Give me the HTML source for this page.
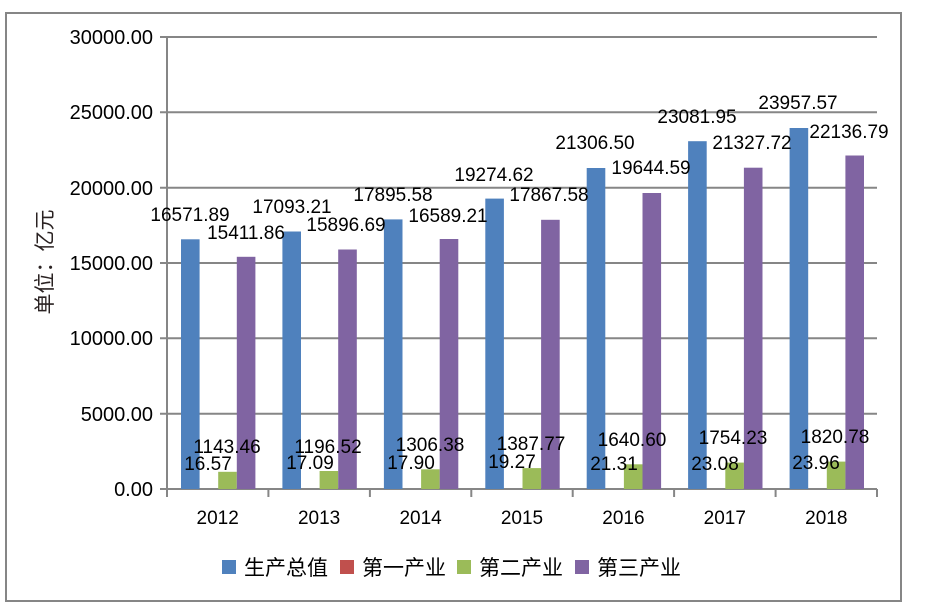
<!DOCTYPE html>
<html><head><meta charset="utf-8"><style>
html,body{margin:0;padding:0;background:#fff;}
svg{display:block;}
text{font-family:"Liberation Sans","Noto Sans CJK SC",sans-serif;fill:#000;}
</style></head><body>
<svg width="943" height="611" viewBox="0 0 943 611" xmlns="http://www.w3.org/2000/svg">
<rect x="6" y="13" width="895" height="588" fill="#fff" stroke="#868686" stroke-width="2"/>
<g stroke="#868686" stroke-width="2">
<line x1="160" y1="37" x2="877" y2="37"/>
<line x1="160" y1="112.3" x2="877" y2="112.3"/>
<line x1="160" y1="187.7" x2="877" y2="187.7"/>
<line x1="160" y1="263" x2="877" y2="263"/>
<line x1="160" y1="338.3" x2="877" y2="338.3"/>
<line x1="160" y1="413.7" x2="877" y2="413.7"/>
<line x1="160" y1="489" x2="877" y2="489"/>
<line x1="167" y1="37" x2="167" y2="489"/>
<line x1="167" y1="489" x2="167" y2="497"/>
<line x1="268.4" y1="489" x2="268.4" y2="497"/>
<line x1="369.9" y1="489" x2="369.9" y2="497"/>
<line x1="471.3" y1="489" x2="471.3" y2="497"/>
<line x1="572.7" y1="489" x2="572.7" y2="497"/>
<line x1="674.1" y1="489" x2="674.1" y2="497"/>
<line x1="775.6" y1="489" x2="775.6" y2="497"/>
<line x1="877" y1="489" x2="877" y2="497"/>
</g>
<g font-size="20" text-anchor="end">
<text x="153" y="44">30000.00</text>
<text x="153" y="119">25000.00</text>
<text x="153" y="195">20000.00</text>
<text x="153" y="270">15000.00</text>
<text x="153" y="345">10000.00</text>
<text x="153" y="421">5000.00</text>
<text x="153" y="496">0.00</text>
</g>
<text transform="translate(52,262) rotate(-90)" font-size="21" text-anchor="middle" style="fill:#2a2222">单位：亿元</text>
<g>
<g fill="#4f81bd">
<rect x="181" y="239.3" width="18.6" height="249.7"/>
<rect x="282.4" y="231.5" width="18.6" height="257.5"/>
<rect x="383.9" y="219.4" width="18.6" height="269.6"/>
<rect x="485.3" y="198.6" width="18.6" height="290.4"/>
<rect x="586.7" y="168" width="18.6" height="321"/>
<rect x="688.1" y="141.2" width="18.6" height="347.8"/>
<rect x="789.6" y="128" width="18.6" height="361"/>
</g>
<g fill="#9bbb59">
<rect x="218.2" y="471.8" width="18.6" height="17.2"/>
<rect x="319.6" y="471" width="18.6" height="18"/>
<rect x="421.1" y="469.3" width="18.6" height="19.7"/>
<rect x="522.5" y="468.1" width="18.6" height="20.9"/>
<rect x="623.9" y="464.3" width="18.6" height="24.7"/>
<rect x="725.3" y="462.6" width="18.6" height="26.4"/>
<rect x="826.8" y="461.6" width="18.6" height="27.4"/>
</g>
<g fill="#8064a2">
<rect x="236.8" y="256.8" width="18.6" height="232.2"/>
<rect x="338.2" y="249.5" width="18.6" height="239.5"/>
<rect x="439.7" y="239" width="18.6" height="250"/>
<rect x="541.1" y="219.8" width="18.6" height="269.2"/>
<rect x="642.5" y="193" width="18.6" height="296"/>
<rect x="743.9" y="167.7" width="18.6" height="321.3"/>
<rect x="845.4" y="155.5" width="18.6" height="333.5"/>
</g>
</g>
<g font-size="19" text-anchor="middle">
<text x="190" y="221">16571.89</text>
<text x="292" y="213">17093.21</text>
<text x="393" y="201">17895.58</text>
<text x="494" y="181">19274.62</text>
<text x="595" y="149">21306.50</text>
<text x="697" y="123">23081.95</text>
<text x="798" y="109">23957.57</text>
<text x="246" y="239">15411.86</text>
<text x="346" y="231">15896.69</text>
<text x="448" y="222">16589.21</text>
<text x="549" y="201">17867.58</text>
<text x="651" y="174">19644.59</text>
<text x="752" y="149">21327.72</text>
<text x="849" y="138">22136.79</text>
<text x="227" y="453">1143.46</text>
<text x="328" y="453">1196.52</text>
<text x="430" y="451">1306.38</text>
<text x="531" y="450">1387.77</text>
<text x="632" y="446">1640.60</text>
<text x="733" y="444">1754.23</text>
<text x="835" y="443">1820.78</text>
<text x="208" y="470">16.57</text>
<text x="310" y="469">17.09</text>
<text x="411" y="469">17.90</text>
<text x="512" y="468">19.27</text>
<text x="614" y="470">21.31</text>
<text x="715" y="470">23.08</text>
<text x="816" y="469">23.96</text>
</g>
<g font-size="19" text-anchor="middle">
<text x="217.7" y="524">2012</text>
<text x="319.1" y="524">2013</text>
<text x="420.6" y="524">2014</text>
<text x="522" y="524">2015</text>
<text x="623.4" y="524">2016</text>
<text x="724.8" y="524">2017</text>
<text x="826.3" y="524">2018</text>
</g>
<g font-size="21">
<rect x="222" y="560" width="14" height="14" fill="#4f81bd"/>
<text x="244" y="575">生产总值</text>
<rect x="340" y="560" width="14" height="14" fill="#c0504d"/>
<text x="362" y="575">第一产业</text>
<rect x="457" y="560" width="14" height="14" fill="#9bbb59"/>
<text x="479" y="575">第二产业</text>
<rect x="575" y="560" width="14" height="14" fill="#8064a2"/>
<text x="597" y="575">第三产业</text>
</g>
</svg>
</body></html>
